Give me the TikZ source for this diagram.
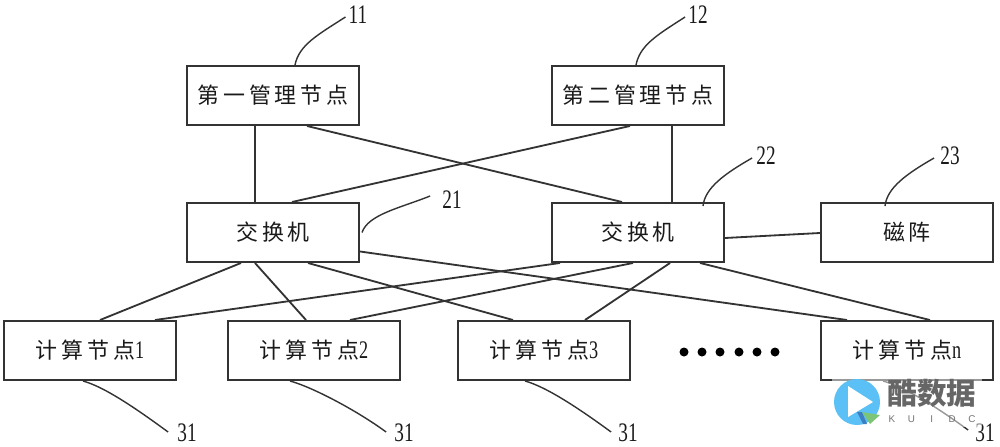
\documentclass[tikz,border=0pt]{standalone}
\usepackage{fontspec}
\usetikzlibrary{calc}
\newfontfamily\cjk[LetterSpace=18]{Noto Sans CJK SC}
\newfontfamily\cjkmark{Noto Sans CJK SC}
\newfontfamily\numfont[FakeStretch=0.72]{Liberation Serif}
\newfontfamily\markfont{Liberation Sans}
\definecolor{linegray}{HTML}{333333}
\definecolor{inkgray}{HTML}{1A1A1A}
\definecolor{logoblue}{HTML}{5BC0F5}
\definecolor{logodark}{HTML}{3E7FC4}
\definecolor{logogreen}{HTML}{7CC576}
\tikzset{
  box/.style = {draw = linegray, line width = 1.4pt, fill = white, shape = rectangle, minimum width = 4.3cm, minimum height = 1.475cm, inner sep = 0pt, text = inkgray, font = \fontsize{15.6}{15.6}\cjk},
  wire/.style = {draw = linegray, line width = 1.3pt},
  leader/.style = {draw = linegray, line width = 1pt},
  num/.style = {inner sep = 0pt, text = inkgray, font = \fontsize{19}{19}\numfont},
  dot/.style = {fill = black, shape = circle, minimum size = 0.225cm, inner sep = 0pt}
}
\newcommand{\digit}[1]{{\fontsize{18}{18}\numfont #1}}

\begin{document}
\begin{tikzpicture}[x = 0.025cm, y = -0.025cm]
\useasboundingbox (0,0) rectangle (1000,447);

\node[box] (m1) at (273,95.5) {第一管理节点};
\node[box] (m2) at (638,95.5) {第二管理节点};
\node[box] (s1) at (273,232.5) {交换机};
\node[box] (s2) at (638,232.5) {交换机};
\node[box] (disk) at (907,232.5) {磁阵};
\node[box] (c1) at (90,350.5) {计算节点\digit{1}};
\node[box] (c2) at (314,350.5) {计算节点\digit{2}};
\node[box] (c3) at (544,350.5) {计算节点\digit{3}};
\node[box] (cn) at (907,350.5) {计算节点\digit{n}};

\foreach \i/\x in {1/684,2/702,3/720,4/739,5/757,6/775}
  \node[dot] (dot\i) at (\x,352) {};

\node[num] (n11) at (358,15) {11};
\node[num] (n12) at (698,15) {12};
\node[num] (n21) at (452,200) {21};
\node[num] (n22) at (766,156) {22};
\node[num] (n23) at (950,156) {23};
\node[num] (n31a) at (187,433) {31};
\node[num] (n31b) at (404,433) {31};
\node[num] (n31c) at (628,433) {31};
\node[num] (n31d) at (985,433) {31};

% management to switch
\draw[wire] ($(m1.south)+(-18,0)$) -- ($(s1.north)+(-18,0)$);
\draw[wire] ($(m1.south)+(34,0)$) -- ($(s2.north)+(-16,0)$);
\draw[wire] ($(m2.south)+(-8,0)$) -- ($(s1.north)+(19,0)$);
\draw[wire] ($(m2.south)+(34,0)$) -- ($(s2.north)+(34,0)$);

% switch to compute
\draw[wire] ($(s1.south)+(-32,0)$) -- ($(c1.north)+(10,0)$);
\draw[wire] ($(s1.south)+(-18,0)$) -- ($(c2.north)+(-8,0)$);
\draw[wire] ($(s1.south)+(35,0)$) -- ($(c3.north)+(-31,0)$);
\draw[wire] ($(s1.east)+(0,19)$) -- ($(cn.north)+(-60,0)$);
\draw[wire] ($(s2.south)+(-78,0)$) -- ($(c1.north)+(65,0)$);
\draw[wire] ($(s2.south)+(-5,0)$) -- ($(c2.north)+(36,0)$);
\draw[wire] ($(s2.south)+(32,0)$) -- ($(c3.north)+(41,0)$);
\draw[wire] ($(s2.south)+(62,0)$) -- ($(cn.north)+(23,0)$);
\draw[wire] ($(s2.east)+(0,5.5)$) -- ($(disk.west)+(0,0.5)$);

% reference lines
\draw[leader] ($(m1.north)+(22,0)$) .. controls +(4,-20) and +(-28,18) .. ($(n11.west)+(-3,2)$);
\draw[leader] ($(m2.north)+(-2,0)$) .. controls +(4,-20) and +(-28,18) .. ($(n12.west)+(-3,2)$);
\draw[leader] ($(s1.east)+(2,0)$) .. controls +(6,-18) and +(-30,12) .. ($(n21.west)+(-12,-4)$);
\draw[leader] ($(s2.north)+(65,4)$) .. controls +(2,-18) and +(-28,16) .. ($(n22.west)+(-4,2)$);
\draw[leader] ($(disk.north)+(-22,4)$) .. controls +(2,-18) and +(-28,16) .. ($(n23.west)+(-6,2)$);
\draw[leader] ($(c1.south)+(-7,0)$) .. controls +(22,6) and +(-30,-22) .. ($(n31a.west)+(-9,-1)$);
\draw[leader] ($(c2.south)+(-24,0)$) .. controls +(22,6) and +(-30,-22) .. ($(n31b.west)+(-8,-1)$);
\draw[leader] ($(c3.south)+(-19,0)$) .. controls +(22,6) and +(-30,-22) .. ($(n31c.west)+(-7,-1)$);
\draw[leader] ($(cn.south)+(-24,0)$) .. controls +(22,6) and +(-30,-22) .. ($(n31d.west)+(-7,-3)$);

% watermark
\fill[white, opacity = 0.5] (832,377) rectangle (982,427);
\fill[logoblue] (857,402) circle (23);
\fill[white] (848,386) -- (873,402) -- (848,417) -- cycle;
\fill[logodark] (857,412) -- (862,412) -- (867,424) -- (863,424) -- cycle;
\fill[logogreen] (862,412) -- (880,415) -- (870,424) -- cycle;
\node[inner sep = 0pt, text = black!60, font = \fontsize{21}{21}\cjkmark\bfseries] (markcn) at (932,393) {酷数据};
\node[inner sep = 0pt, text = black!55, font = \fontsize{7}{7}\markfont] (markla) at (932,419) {K\hspace{9pt}U\hspace{11pt}I\hspace{11pt}D\hspace{9pt}C};
\end{tikzpicture}
\end{document}
